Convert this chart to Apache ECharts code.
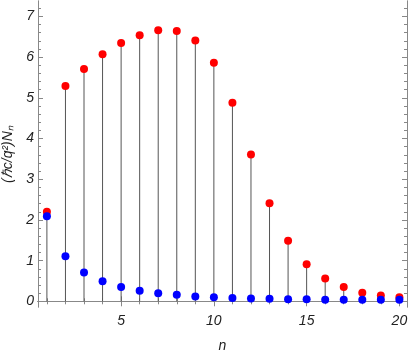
<!DOCTYPE html>
<html>
<head>
<meta charset="utf-8">
<script src="https://cdn.jsdelivr.net/npm/echarts@6/dist/echarts.min.js"></script>
<style>
  html, body { margin: 0; padding: 0; background: #fff; }
  #chart { width: 409px; height: 354px; }
</style>
</head>
<body>
<div id="chart"></div>
<script>
// values
let nValues = [1,2,3,4,5,6,7,8,9,10,11,12,13,14,15,16,17,18,19,20];
let redValues = [2.20,5.29,5.71,6.07,6.35,6.54,6.66,6.64,6.41,5.86,4.88,3.61,2.41,1.49,0.91,0.56,0.35,0.21,0.14,0.10];
let blueValues = [2.09,1.11,0.71,0.49,0.35,0.26,0.20,0.16,0.12,0.10,0.08,0.07,0.06,0.05,0.05,0.04,0.04,0.04,0.04,0.04];
let xMajor = [5,10,15,20];
let xMinor = [1,2,3,4,6,7,8,9,11,12,13,14,16,17,18,19];
let yMajor = [0,1,2,3,4,5,6,7];
let yMinor = [];
for (let i = 0; i < 37; i++) {
  let v = Math.round(i * 2) / 10;
  if (v % 1 !== 0) yMinor.push(v);
}

let frameColor = '#888';
let labelFont = { color: '#222', fontStyle: 'italic', fontFamily: 'Liberation Sans', fontSize: 14 };

function xAx(pos, ticks, len, labels) {
  return {
    type: 'value', position: pos, min: 0.52, max: 20.41,
    axisLine: { show: true, lineStyle: { color: frameColor, width: 1 } },
    axisTick: { show: true, inside: true, length: len, customValues: ticks, lineStyle: { color: frameColor } },
    axisLabel: labels ? Object.assign({ show: true, customValues: ticks, margin: 7 }, labelFont) : { show: false },
    splitLine: { show: false }
  };
}
function yAx(pos, ticks, len, labels) {
  return {
    type: 'value', position: pos, min: -0.14, max: 7.38,
    axisLine: { show: true, lineStyle: { color: frameColor, width: 1 } },
    axisTick: { show: true, inside: true, length: len, customValues: ticks, lineStyle: { color: frameColor } },
    axisLabel: labels ? Object.assign({ show: true, customValues: ticks, margin: 4 }, labelFont) : { show: false },
    splitLine: { show: false }
  };
}

let xAxes = [xAx('bottom', xMajor, 5, true), xAx('bottom', xMinor, 3, false), xAx('top', xMajor, 5, false), xAx('top', xMinor, 3, false)];
xAxes[0].name = 'n';
xAxes[0].nameLocation = 'middle';
xAxes[0].nameGap = 32;
xAxes[0].nameTextStyle = labelFont;

let yAxes = [yAx('left', yMajor, 5, true), yAx('left', yMinor, 3, false), yAx('right', yMajor, 5, false), yAx('right', yMinor, 3, false)];
yAxes[0].name = '(ℏc/q²)Nₙ';
yAxes[0].nameLocation = 'middle';
yAxes[0].nameGap = 20;
yAxes[0].nameTextStyle = labelFont;

let stemData = nValues.map((n, i) => [n, Math.max(redValues[i], blueValues[i])]);

let option = {
  animation: false,
  grid: { left: 38, right: 2, top: 1, bottom: 47, containLabel: false, outerBoundsMode: 'none' },
  xAxis: xAxes,
  yAxis: yAxes,
  series: [
    {
      type: 'custom',
      xAxisIndex: 0, yAxisIndex: 0,
      data: stemData,
      renderItem: function (params, api) {
        let p0 = api.coord([api.value(0), 0]);
        let p1 = api.coord([api.value(0), api.value(1)]);
        return {
          type: 'line',
          shape: { x1: p0[0], y1: p0[1], x2: p1[0], y2: p1[1] },
          style: { stroke: '#555', lineWidth: 1 }
        };
      },
      z: 1
    },
    {
      type: 'scatter',
      xAxisIndex: 0, yAxisIndex: 0,
      data: nValues.map((n, i) => [n, redValues[i]]),
      symbolSize: 8,
      itemStyle: { color: '#ff0000', opacity: 1 },
      z: 2
    },
    {
      type: 'scatter',
      xAxisIndex: 0, yAxisIndex: 0,
      data: nValues.map((n, i) => [n, blueValues[i]]),
      symbolSize: 8,
      itemStyle: { color: '#0000ff', opacity: 1 },
      z: 3
    }
  ]
};

let myChart = echarts.init(document.getElementById('chart'));
myChart.setOption(option);
</script>
</body>
</html>
